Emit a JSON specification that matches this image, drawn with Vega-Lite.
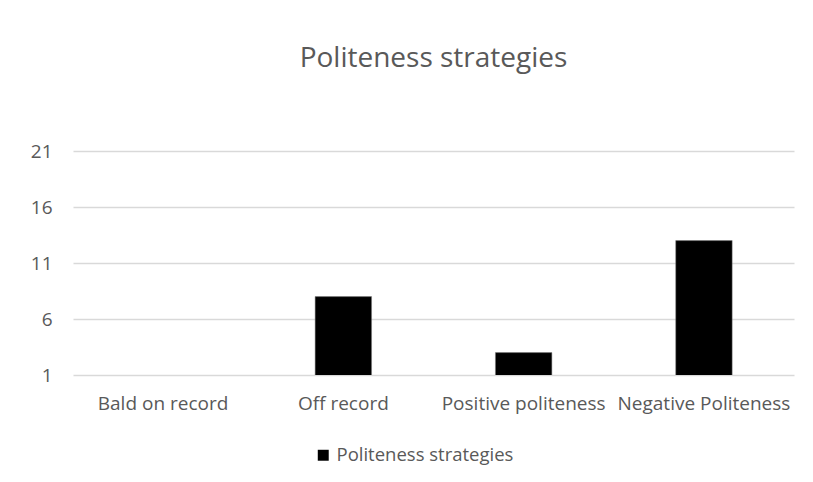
{
  "$schema": "https://vega.github.io/schema/vega-lite/v6.json",
  "autosize": {"type": "none"},
  "width": 721,
  "height": 224,
  "padding": {"left": 73, "top": 151, "right": 19, "bottom": 107},
  "background": "white",
  "title": {
    "text": "Politeness strategies",
    "font": "Open Sans",
    "fontSize": 28,
    "fontWeight": "normal",
    "color": "#595959",
    "anchor": "middle",
    "offset": 69
  },
  "data": {
    "values": [
      {"strategy": "Bald on record", "count": 0, "series": "Politeness strategies"},
      {"strategy": "Off record", "count": 8, "series": "Politeness strategies"},
      {"strategy": "Positive politeness", "count": 3, "series": "Politeness strategies"},
      {"strategy": "Negative Politeness", "count": 13, "series": "Politeness strategies"}
    ]
  },
  "mark": {"type": "bar", "clip": true, "stroke": "#7f7f7f", "strokeWidth": 0.5},
  "encoding": {
    "x": {
      "field": "strategy",
      "type": "nominal",
      "sort": null,
      "scale": {"paddingInner": 0.687, "paddingOuter": 0.343},
      "axis": {
        "title": null,
        "labelAngle": 0,
        "labelFont": "Open Sans",
        "labelFontSize": 19,
        "labelColor": "#595959",
        "labelPadding": 19,
        "labelLimit": 300,
        "labelOverlap": false,
        "ticks": false,
        "domain": false,
        "grid": false
      }
    },
    "y": {
      "field": "count",
      "type": "quantitative",
      "scale": {"domain": [1, 21], "nice": false, "zero": false},
      "axis": {
        "title": null,
        "values": [1, 6, 11, 16, 21],
        "labelFont": "Open Sans",
        "labelFontSize": 19,
        "labelColor": "#595959",
        "labelPadding": 21,
        "ticks": false,
        "domain": false,
        "grid": true,
        "gridColor": "#d9d9d9",
        "gridWidth": 1.3
      }
    },
    "color": {
      "field": "series",
      "type": "nominal",
      "scale": {"range": ["#000000"]},
      "legend": {
        "title": null,
        "orient": "none",
        "legendX": 241,
        "legendY": 295,
        "direction": "horizontal",
        "symbolType": "square",
        "symbolSize": 120,
        "symbolStrokeWidth": 0,
        "labelFont": "Open Sans",
        "labelFontSize": 18.5,
        "labelColor": "#595959",
        "labelLimit": 300
      }
    }
  },
  "config": {"view": {"stroke": null}}
}
